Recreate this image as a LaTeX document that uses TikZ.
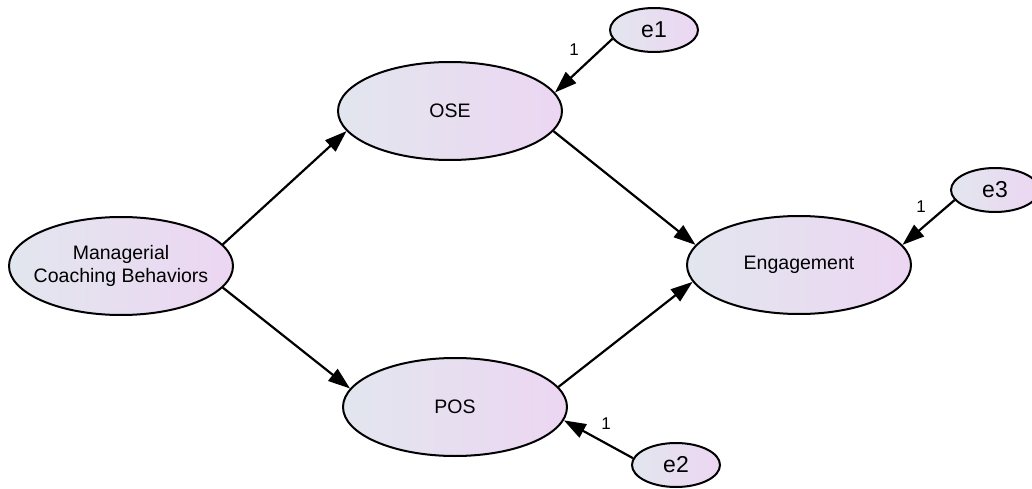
\documentclass[tikz,border=0pt]{standalone}
\usepackage{fontspec}
\setmainfont{Liberation Sans}
\usetikzlibrary{shapes.geometric,arrows.meta}
\definecolor{shadeL}{RGB}{226,230,238}
\definecolor{shadeR}{RGB}{236,214,242}
\tikzset{
  latent/.style={ellipse, draw=black, line width=2pt, inner sep=0pt,
    left color=shadeL, right color=shadeR,
    minimum width=224pt, minimum height=98pt, align=center,
    font=\fontsize{19.5}{23}\selectfont},
  errvar/.style={ellipse, draw=black, line width=2pt, inner sep=0pt,
    left color=shadeL, right color=shadeR,
    minimum width=88pt, minimum height=44pt,
    font=\fontsize{23}{26}\selectfont},
  path/.style={line width=2.2pt, -{Triangle[length=22pt,width=15pt]}},
  wlabel/.style={font=\fontsize{17}{18}\selectfont, inner sep=0pt}
}
\begin{document}
\begin{tikzpicture}[x=1pt,y=-1pt]
\useasboundingbox (0,0) rectangle (1032,489);
\node[latent, inner xsep=-14pt, inner ysep=-6pt] (mcb) at (121,266) {Managerial\\Coaching Behaviors};
\node[latent] (ose) at (450,111) {OSE};
\node[latent] (pos) at (455,407) {POS};
\node[latent] (eng) at (799,265) {Engagement};
\node[errvar] (e1) at (654,30) {e1};
\node[errvar] (e2) at (676,465) {e2};
\node[errvar] (e3) at (995,190) {e3};

\draw[path] (mcb.12) -- (ose.191.5);
\draw[path] (mcb.-12) -- (pos.170.4);
\draw[path] (ose.-11.6) -- (eng.169.3);
\draw[path] (pos.11) -- (eng.189.6);
\draw[path] (e1.192.4) -- (ose.10.3);
\draw[path] (e2.171) -- (pos.-7.3);
\draw[path] (e3.194) -- (eng.11.8);

\node[wlabel] (l1) at (574,50) {1};
\node[wlabel] (l2) at (606,424) {1};
\node[wlabel] (l3) at (921,207) {1};
\end{tikzpicture}
\end{document}
